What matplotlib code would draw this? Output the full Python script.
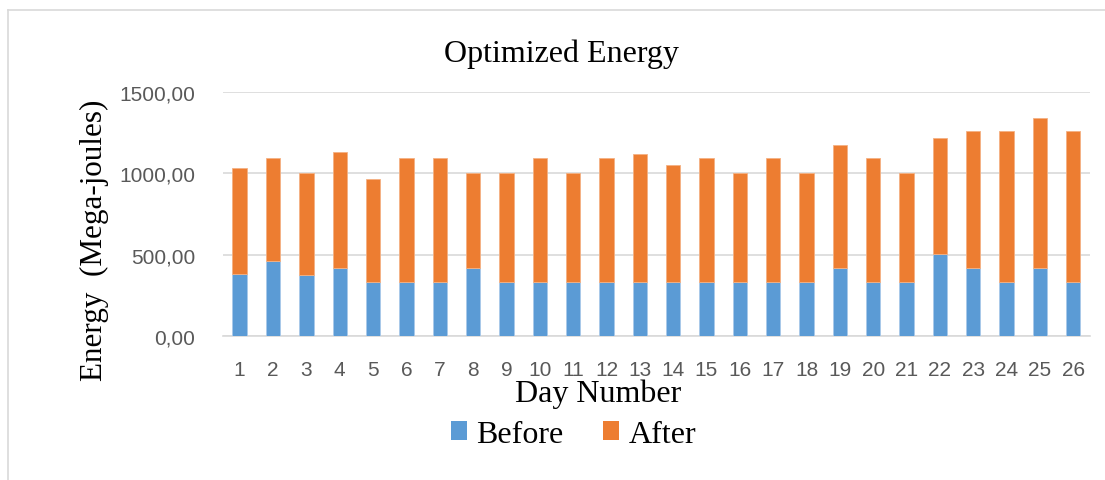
import numpy as np
import matplotlib.pyplot as plt
from matplotlib.lines import Line2D
from matplotlib.patches import Patch

# data
days = [str(i) for i in range(1, 27)]
before = [381, 463, 375, 418, 334, 334, 334, 418, 334, 334, 334, 334, 334,
          334, 334, 334, 334, 334, 418, 334, 334, 504, 418, 334, 418, 334]
after = [652, 628, 629, 714, 629, 757, 757, 586, 670, 757, 670, 757, 785,
         716, 757, 670, 757, 670, 755, 757, 670, 710, 843, 927, 923, 927]
yticks = [0, 500, 1000, 1500]
ytick_labels = ['0,00', '500,00', '1000,00', '1500,00']

blue = '#5B9BD5'
orange = '#ED7D31'
serif = 'Liberation Serif'
sans = 'Liberation Sans'

fig = plt.figure(figsize=(11.05, 4.81), dpi=100)
ax = fig.add_axes([0.2018, 0.2988, 0.7846, 0.5085])

x = np.arange(len(days))
ax.bar(x, before, width=0.43, color=blue, edgecolor='#a9c9ea', linewidth=0.6,
       zorder=3)
ax.bar(x, after, bottom=before, width=0.43, color=orange, edgecolor='#f4b183',
       linewidth=0.6, zorder=3)

ax.set_xlim(-0.5, len(days) - 0.5)
ax.set_ylim(0, 1500)
ax.set_xticks(x)
ax.set_xticklabels(days, fontname=sans, fontsize=15, color='#595959')
ax.set_yticks(yticks)
ax.set_yticklabels(ytick_labels, fontname=sans, fontsize=15, color='#595959')
ax.tick_params(axis='x', length=0, pad=17)
ax.tick_params(axis='y', length=0, pad=20)
ax.grid(axis='y', color='#d9d9d9', linewidth=1.2, zorder=0)
for s in ['top', 'right', 'left']:
    ax.spines[s].set_visible(False)
ax.spines['bottom'].set_color('#d9d9d9')
ax.spines['bottom'].set_linewidth(1.2)

fig.text(0.508, 0.887, 'Optimized Energy', fontname=serif, fontsize=23,
         ha='center', va='center')
fig.text(0.0855, 0.5, 'Energy  (Mega-joules)', fontname=serif, fontsize=22.4,
         rotation=90, ha='center', va='center')
fig.text(0.541, 0.181, 'Day Number', fontname=serif, fontsize=23,
         ha='center', va='center')

handles = [Patch(facecolor=blue), Patch(facecolor=orange)]
fig.legend(handles, ['Before', 'After'], loc='center', ncol=2,
           bbox_to_anchor=(0.519, 0.095), frameon=False,
           prop={'family': serif, 'size': 23}, handlelength=0.5,
           handleheight=0.5, handletextpad=0.3, columnspacing=1.25)

# outer chart border (cut at right and bottom)
fig.add_artist(Line2D([0.0075, 1.0], [0.977, 0.977], color='#d9d9d9', lw=1.2))
fig.add_artist(Line2D([0.0075, 0.0075], [0.0, 0.977], color='#d9d9d9', lw=1.2))

fig.savefig('out.png', dpi=100)
